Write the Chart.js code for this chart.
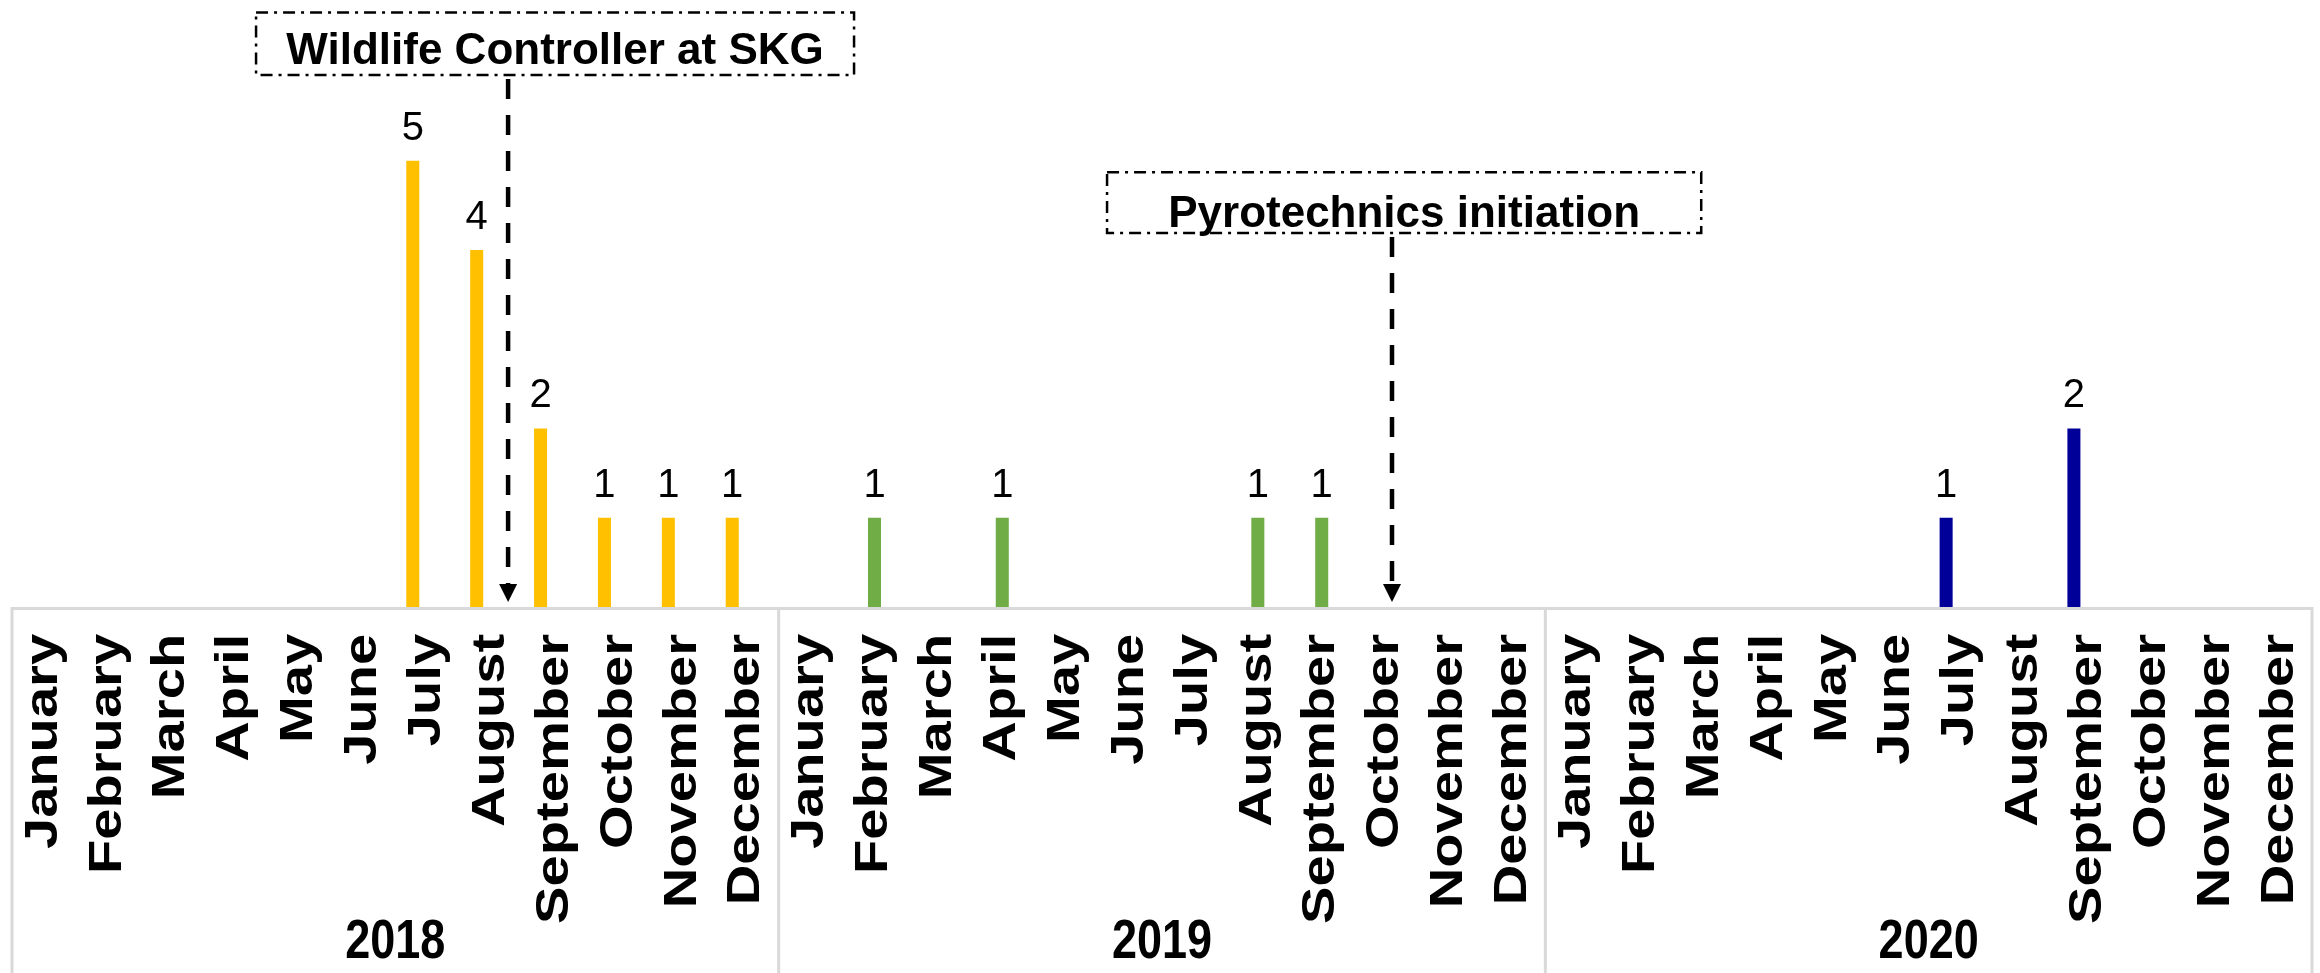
<!DOCTYPE html>
<html>
<head>
<meta charset="utf-8">
<title>Wildlife strikes per month</title>
<script src="https://cdn.jsdelivr.net/npm/chart.js@4.4.1/dist/chart.umd.min.js"></script>
<style>
  html, body { margin: 0; padding: 0; background: #fff; }
  #wrap { width: 2320px; height: 973px; position: relative; }
</style>
</head>
<body>
<div id="wrap"><canvas id="strikeChart"></canvas></div>
<script>
const months = ['January', 'February', 'March', 'April', 'May', 'June',
    'July', 'August', 'September', 'October', 'November', 'December'];
const years = ['2018', '2019', '2020'];

// monthly counts per year
const counts2018 = [0, 0, 0, 0, 0, 0, 5, 4, 2, 1, 1, 1];
const counts2019 = [0, 1, 0, 1, 0, 0, 0, 1, 1, 0, 0, 0];
const counts2020 = [0, 0, 0, 0, 0, 0, 1, 0, 2, 0, 0, 0];

const yearColors = ['#FFC000', '#70AD47', '#000099'];
// bar slot each year uses inside a month (the source chart puts 2018 and 2020 in the same slot)
const yearSlots = ['s1', 's2', 's1'];

// events marked on the timeline (x in category index, y in value units)
const events = [
    { text: 'Wildlife Controller at SKG', left: 3.32, right: 12.68, top: 6.66, bottom: 5.96, textY: 6.08, arrowX: 7.265 },
    { text: 'Pyrotechnics initiation', left: 16.64, right: 25.94, top: 4.87, bottom: 4.19, textY: 4.26, arrowX: 21.1 }
];

const FONT = "'Liberation Sans', Arial, sans-serif";
const LABEL_STRETCH = 1.22; // axis text in the original is drawn taller than wide

// category axis whose labels are drawn vertically stretched
class StretchedCategoryScale extends Chart.CategoryScale {
    drawLabels(chartArea) {
        const ctx = this.ctx;
        ctx.save();
        ctx.translate(0, this.top);
        ctx.scale(1, LABEL_STRETCH);
        ctx.translate(0, -this.top);
        super.drawLabels(chartArea);
        ctx.restore();
    }
}
StretchedCategoryScale.id = 'stretchedCategory';
Chart.register(StretchedCategoryScale);

// one series per year, only filled inside its own 12 months
function spread(values, yearIndex) {
    const out = new Array(months.length * years.length).fill(null);
    values.forEach((v, i) => {
        if (v > 0) out[yearIndex * months.length + i] = v;
    });
    return out;
}

const labels = years.flatMap(() => months);

const yearSets = [counts2018, counts2019, counts2020].map((vals, i) => ({
    label: years[i],
    data: spread(vals, i),
    stack: yearSlots[i],
    backgroundColor: yearColors[i],
    borderWidth: 0,
    categoryPercentage: 0.68,
    barPercentage: 0.9
}));

// empty third slot, kept so the bar positions match the original layout
const emptySlot = {
    label: '',
    data: new Array(labels.length).fill(null),
    stack: 's3',
    categoryPercentage: 0.68,
    barPercentage: 0.9
};

const data = {
    labels: labels,
    datasets: yearSets.concat([emptySlot])
};

const decorPlugin = {
    id: 'decor',
    afterDatasetsDraw(chart) {
        const { ctx, chartArea, scales: { x, y } } = chart;
        ctx.save();

        // multi-level category frame
        ctx.strokeStyle = '#d9d9d9';
        ctx.lineWidth = 3;
        ctx.setLineDash([]);
        ctx.beginPath();
        ctx.moveTo(chartArea.left - 1.5, chartArea.bottom + 1.5);
        ctx.lineTo(chartArea.right + 1.5, chartArea.bottom + 1.5);
        for (let k = 0; k <= years.length; k++) {
            const px = x.getPixelForValue(k * months.length - 0.5);
            ctx.moveTo(px, chartArea.bottom);
            ctx.lineTo(px, chart.height);
        }
        ctx.stroke();

        // value labels
        ctx.fillStyle = '#000';
        ctx.font = '40px ' + FONT;
        ctx.textAlign = 'center';
        ctx.textBaseline = 'alphabetic';
        chart.data.datasets.forEach((ds, i) => {
            chart.getDatasetMeta(i).data.forEach((bar, j) => {
                const v = ds.data[j];
                if (v == null) return;
                ctx.fillText(String(v), bar.x, bar.y - 21);
            });
        });

        // event boxes and arrows
        events.forEach(ev => {
            const l = x.getPixelForValue(ev.left);
            const r = x.getPixelForValue(ev.right);
            const t = y.getPixelForValue(ev.top);
            const b = y.getPixelForValue(ev.bottom);
            ctx.strokeStyle = '#000';
            ctx.lineWidth = 2.5;
            ctx.setLineDash([12, 6, 3, 6]);
            ctx.strokeRect(l, t, r - l, b - t);

            ctx.font = 'bold 44px ' + FONT;
            ctx.fillStyle = '#000';
            ctx.textAlign = 'center';
            ctx.textBaseline = 'alphabetic';
            ctx.fillText(ev.text, (l + r) / 2, y.getPixelForValue(ev.textY));

            const ax = x.getPixelForValue(ev.arrowX);
            const tip = chartArea.bottom - 5;
            ctx.lineWidth = 4.5;
            ctx.setLineDash([20, 16]);
            ctx.beginPath();
            ctx.moveTo(ax, b + 4);
            ctx.lineTo(ax, tip - 16);
            ctx.stroke();
            ctx.setLineDash([]);
            ctx.beginPath();
            ctx.moveTo(ax - 9, tip - 18);
            ctx.lineTo(ax + 9, tip - 18);
            ctx.lineTo(ax, tip);
            ctx.closePath();
            ctx.fill();
        });

        ctx.restore();
    }
};

const config = {
    type: 'bar',
    data: data,
    options: {
        responsive: true,
        maintainAspectRatio: false,
        animation: false,
        layout: {
            padding: { top: 0, left: 12, right: 8, bottom: 0 }
        },
        scales: {
            y: {
                display: false,
                stacked: false,
                min: 0,
                max: 6.8
            },
            x: {
                type: 'stretchedCategory',
                position: 'bottom',
                offset: true,
                grid: { display: false, drawTicks: false },
                border: { display: false },
                ticks: {
                    autoSkip: false,
                    minRotation: 90,
                    maxRotation: 90,
                    padding: 22,
                    color: '#000',
                    font: { family: FONT, size: 46, weight: 'bold' }
                },
                afterFit(scale) {
                    scale.height = 290;
                    scale.paddingLeft = 0;
                    scale.paddingRight = 0;
                }
            },
            year: {
                type: 'stretchedCategory',
                labels: years,
                position: 'bottom',
                offset: true,
                weight: 1,
                grid: { display: false, drawTicks: false },
                border: { display: false },
                ticks: {
                    padding: 11,
                    color: '#000',
                    font: { family: FONT, size: 45, weight: 'bold' }
                },
                afterFit(scale) {
                    scale.height = 76;
                    scale.paddingLeft = 0;
                    scale.paddingRight = 0;
                }
            }
        },
        plugins: {
            legend: { display: false },
            tooltip: { enabled: false }
        }
    },
    plugins: [decorPlugin]
};

const strikeChart = new Chart(
    document.getElementById('strikeChart'),
    config
);
</script>
</body>
</html>
